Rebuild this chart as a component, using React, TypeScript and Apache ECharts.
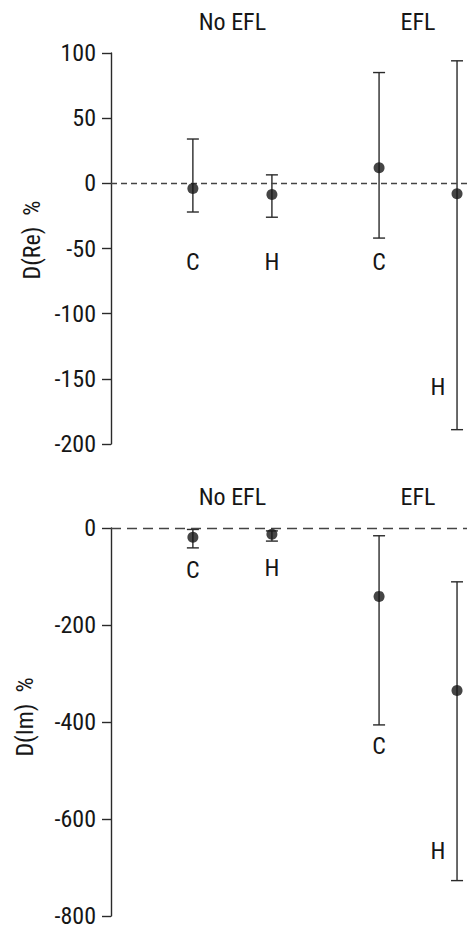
import React, { useEffect, useRef } from "react";
import * as echarts from "echarts";

// ---- data ----
const groups = ["No EFL", "EFL"];
const conditions = ["C", "H", "C", "H"];
const conditionX = [23, 45.2, 75.3, 97.2]; // position of each condition on the (hidden) x scale

// D(Re) %
const reMean = [-4, -8.5, 12, -8];
const reLow = [-22, -26, -42, -189];
const reHigh = [34, 6.5, 85, 94];
const reLabelAt = [-60, -60, -60, -156];
const reTicks = { min: -200, max: 100, interval: 50 };

// D(Im) %
const imMean = [-19, -13, -141, -335];
const imLow = [-41, -27, -406, -727];
const imHigh = [-3, -6, -16, -111];
const imLabelAt = [-87, -83, -449, -665];
const imTicks = { min: -800, max: 0, interval: 200 };

const FONT = "'Roboto Condensed', 'Liberation Sans', Arial, sans-serif";
const FS = 24;
const INK = "#161616";
const LINE = "#2a2a2a";

function makeErrorSeries(
  gridIndex: number,
  low: number[],
  high: number[],
  labelAt: number[],
  yMax: number
) {
  const data = conditionX.map((x, i) => [x, low[i], high[i], labelAt[i]]);
  return {
    type: "custom",
    xAxisIndex: gridIndex,
    yAxisIndex: gridIndex,
    silent: true,
    clip: false,
    encode: { x: 0, y: [1, 2] },
    data,
    renderItem: (params: any, api: any) => {
      const i = params.dataIndex;
      const x = api.value(0);
      const lo = api.value(1);
      const hi = api.value(2);
      const lab = api.value(3);
      const pTop = api.coord([x, hi]);
      const pBot = api.coord([x, lo]);
      const half = 6;
      const ls = { stroke: LINE, lineWidth: 1.4 };
      const children: any[] = [
        { type: "line", shape: { x1: pTop[0], y1: pTop[1], x2: pBot[0], y2: pBot[1] }, style: ls },
        { type: "line", shape: { x1: pTop[0] - half, y1: pTop[1], x2: pTop[0] + half, y2: pTop[1] }, style: ls },
        { type: "line", shape: { x1: pBot[0] - half, y1: pBot[1], x2: pBot[0] + half, y2: pBot[1] }, style: ls },
      ];
      const lp = api.coord([x, lab]);
      const besideBar = lab > lo && lab < hi;
      children.push({
        type: "text",
        x: besideBar ? lp[0] - 19 : lp[0],
        y: lp[1],
        style: {
          text: conditions[i],
          align: "center",
          verticalAlign: "middle",
          fill: INK,
          fontSize: FS,
          fontFamily: FONT,
        },
      });
      if (i % 2 === 1) {
        const mid = (conditionX[i - 1] + conditionX[i]) / 2;
        const hp = api.coord([mid, yMax]);
        children.push({
          type: "text",
          x: hp[0],
          y: hp[1] - 31,
          style: {
            text: groups[(i - 1) / 2],
            align: "center",
            verticalAlign: "middle",
            fill: INK,
            fontSize: FS,
            fontFamily: FONT,
          },
        });
      }
      return { type: "group", children };
    },
  };
}

function makeMeanSeries(gridIndex: number, mean: number[], dash: number[]) {
  return {
    type: "scatter",
    xAxisIndex: gridIndex,
    yAxisIndex: gridIndex,
    symbol: "circle",
    symbolSize: 11,
    itemStyle: { color: INK },
    silent: true,
    z: 5,
    data: conditionX.map((x, i) => [x, mean[i]]),
    markLine: {
      silent: true,
      symbol: "none",
      label: { show: false },
      lineStyle: { color: "#444", width: 1.3, type: dash },
      data: [{ yAxis: 0 }],
    },
  };
}

function yAxis(gridIndex: number, t: { min: number; max: number; interval: number }) {
  return {
    type: "value",
    gridIndex,
    min: t.min,
    max: t.max,
    interval: t.interval,
    axisLine: { show: true, lineStyle: { color: LINE, width: 1.4 } },
    axisTick: { show: true, length: 9, lineStyle: { color: LINE, width: 1.4 } },
    splitLine: { show: false },
    axisLabel: { margin: 15, color: INK, fontSize: FS, lineHeight: 18, fontFamily: FONT },
  };
}

function xAxis(gridIndex: number) {
  return { type: "value", gridIndex, min: 0, max: 100, show: false };
}

export default function App() {
  const ref = useRef<HTMLDivElement>(null);
  useEffect(() => {
    document.body.style.margin = "0";
    if (!ref.current) return;
    const chart = echarts.init(ref.current, undefined, { renderer: "svg" });
    chart.setOption({
      animation: false,
      backgroundColor: "#ffffff",
      grid: [
        { left: 111, right: 0, top: 53, height: 391 },
        { left: 111, right: 0, top: 528, height: 388 },
      ],
      xAxis: [xAxis(0), xAxis(1)],
      yAxis: [yAxis(0, reTicks), yAxis(1, imTicks)],
      graphic: [
        {
          type: "text",
          x: 32,
          y: 240,
          rotation: Math.PI / 2,
          style: { text: "D(Re)  %", align: "center", verticalAlign: "middle", fill: INK, fontSize: FS, fontFamily: FONT },
        },
        {
          type: "text",
          x: 25,
          y: 717,
          rotation: Math.PI / 2,
          style: { text: "D(Im)  %", align: "center", verticalAlign: "middle", fill: INK, fontSize: FS, fontFamily: FONT },
        },
      ],
      series: [
        makeErrorSeries(0, reLow, reHigh, reLabelAt, reTicks.max),
        makeMeanSeries(0, reMean, [6, 4]),
        makeErrorSeries(1, imLow, imHigh, imLabelAt, imTicks.max),
        makeMeanSeries(1, imMean, [10, 6]),
      ],
    });
    return () => chart.dispose();
  }, []);
  return <div ref={ref} style={{ width: 467, height: 929 }} />;
}
